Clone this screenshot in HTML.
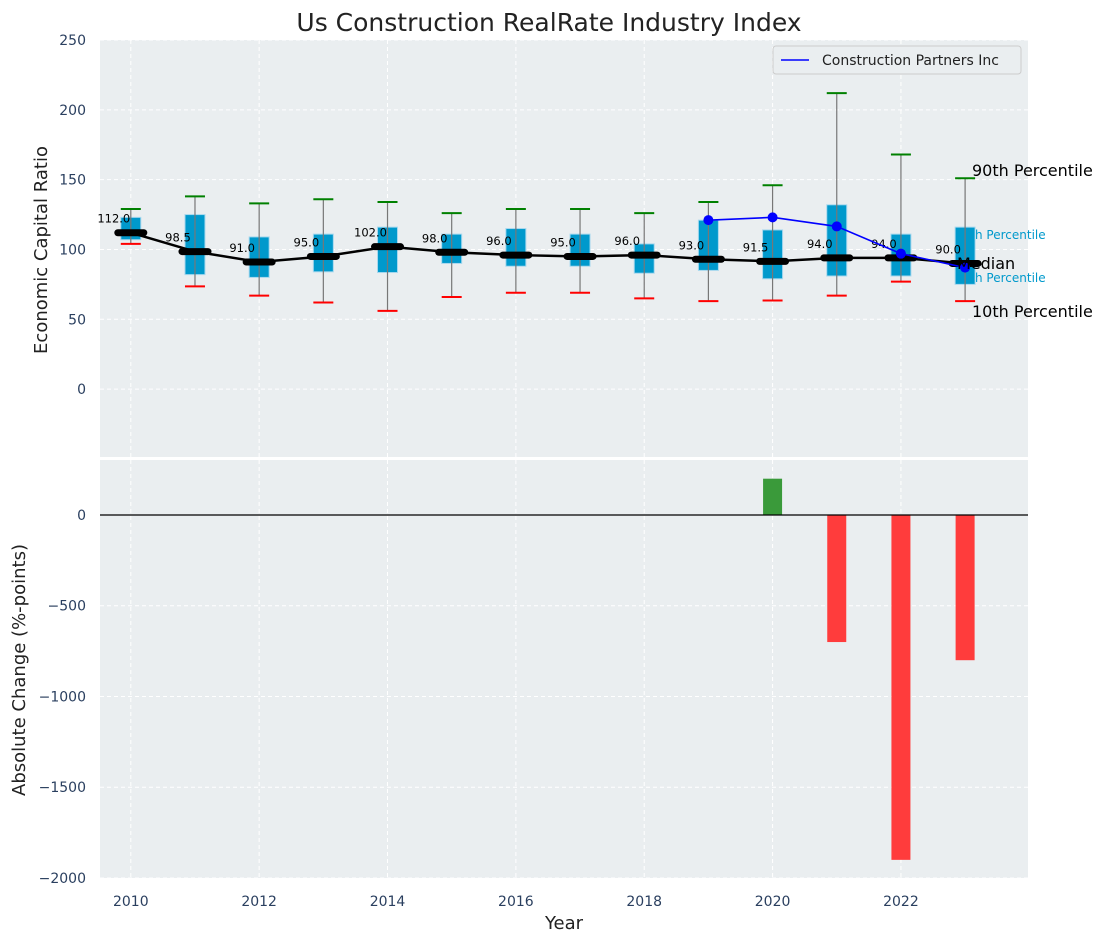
<!DOCTYPE html>
<html><head><meta charset="utf-8"><style>
body{margin:0;background:#fff;}
svg{display:block;font-family:"DejaVu Sans","Liberation Sans",sans-serif;}
</style></head><body>
<svg id="c" width="1107" height="942" viewBox="0 0 1107 942" xmlns="http://www.w3.org/2000/svg"></svg>
<script>
const years=[2010,2011,2012,2013,2014,2015,2016,2017,2018,2019,2020,2021,2022,2023];
const medians=[112,98.5,91,95,102,98,96,95,96,93,91.5,94,94,90];
const q75=[123,125,109,111,116,111,115,111,104,121,114,132,111,116];
const q25=[107,82,80,84,83.5,90,88,88,83,85,79,81,81,75];
const p90=[129,138,133,136,134,126,129,129,126,134,146,212,168,151];
const p10=[104,73.6,67,62,56,66,69,69,65,63,63.5,67,77,63];
const compYears=[2019,2020,2021,2022,2023];
const compVals=[121,123,116.5,97,87];
const chgYears=[2020,2021,2022,2023];
const chgVals=[200,-700,-1900,-800];
const topTicks=[0,50,100,150,200,250];
const botTicks=[0,-500,-1000,-1500,-2000];
const xTicks=[2010,2012,2014,2016,2018,2020,2022];

const svg=document.getElementById('c');
const NS='http://www.w3.org/2000/svg';
function el(t,a,p){const e=document.createElementNS(NS,t);for(const k in a)e.setAttribute(k,a[k]);(p||svg).appendChild(e);return e;}
const L=100,R=1028;
const X=v=>L+(v-2009.52)/(2023.98-2009.52)*(R-L);
const T0=40,T1=457; const YT=v=>T0+(250-v)/(250+48.6)*(T1-T0);
const B0=460,B1=878; const YB=v=>B0+(303-v)/(303+2000)*(B1-B0);
const tc='#2a3f5f';

let e=el('rect',{x:L,y:T0,width:R-L,height:T1-T0,fill:'#eaeef0'});

e=el('rect',{x:L,y:B0,width:R-L,height:B1-B0,fill:'#eaeef0'});


xTicks.forEach(t=>{
  el('line',{x1:X(t),x2:X(t),y1:T0,y2:T1,stroke:'#fff','stroke-dasharray':'4,3','stroke-width':1});
  el('line',{x1:X(t),x2:X(t),y1:B0,y2:B1,stroke:'#fff','stroke-dasharray':'4,3','stroke-width':1});
  e=el('text',{x:X(t),y:906,'text-anchor':'middle','font-size':14,fill:tc});e.textContent=t;
  
});
topTicks.forEach(t=>{
  el('line',{x1:L,x2:R,y1:YT(t),y2:YT(t),stroke:'#fff','stroke-dasharray':'4,3','stroke-width':1});
  e=el('text',{x:86,y:YT(t)+5,'text-anchor':'end','font-size':14,fill:tc});e.textContent=t;
  
});
botTicks.forEach(t=>{
  el('line',{x1:L,x2:R,y1:YB(t),y2:YB(t),stroke:'#fff','stroke-dasharray':'4,3','stroke-width':1});
  e=el('text',{x:86,y:YB(t)+5,'text-anchor':'end','font-size':14,fill:tc});e.textContent=(t<0?'\u2212'+(-t):t);
  
});

years.forEach((y,i)=>{
  const x=X(y);
  e=el('rect',{x:x-10,y:YT(q75[i]),width:20,height:YT(q25[i])-YT(q75[i]),fill:'#0099cc',stroke:'#a8d8ee','stroke-width':1});
  
  el('line',{x1:x,x2:x,y1:YT(p90[i]),y2:YT(p10[i]),stroke:'#777','stroke-width':1.2});
  e=el('line',{x1:x-10,x2:x+10,y1:YT(p90[i]),y2:YT(p90[i]),stroke:'green','stroke-width':2});
  
  e=el('line',{x1:x-10,x2:x+10,y1:YT(p10[i]),y2:YT(p10[i]),stroke:'red','stroke-width':2});
  
});
e=el('polyline',{points:years.map((y,i)=>X(y)+','+YT(medians[i])).join(' '),fill:'none',stroke:'#000','stroke-width':2.5});

years.forEach((y,i)=>{
  e=el('line',{x1:X(y)-13,x2:X(y)+13,y1:YT(medians[i]),y2:YT(medians[i]),stroke:'#000','stroke-width':7,'stroke-linecap':'round'});
  
  e=el('text',{x:X(y)-17,y:YT(medians[i])-10,'text-anchor':'middle','font-size':11.5,fill:'#000'});e.textContent=medians[i].toFixed(1);
  
});
e=el('polyline',{points:compYears.map((y,i)=>X(y)+','+YT(compVals[i])).join(' '),fill:'none',stroke:'#0000ff','stroke-width':1.6});

compYears.forEach((y,i)=>{
  e=el('circle',{cx:X(y),cy:YT(compVals[i]),r:5,fill:'#0000ff'});
  
});
const rl=[['90th Percentile',972,176,16,'#000'],['h Percentile',975,239,12,'#0099cc'],['Median',957,269,16,'#000'],['h Percentile',975,282,12,'#0099cc'],['10th Percentile',972,317,16,'#000']];
rl.forEach(r=>{e=el('text',{x:r[1],y:r[2],'font-size':r[3],fill:r[4]});e.textContent=r[0];
  });
const lg=el('g',{});
el('rect',{x:773,y:46,width:248,height:28,rx:3,fill:'#eaeef0',stroke:'#ccc'},lg);
el('line',{x1:781,x2:809,y1:60,y2:60,stroke:'#0000ff','stroke-width':1.6},lg);
e=el('text',{x:822,y:65,'font-size':14,fill:'#222'},lg);e.textContent='Construction Partners Inc';

chgYears.forEach((y,i)=>{
  const v=chgVals[i];const a=YB(Math.max(v,0)),b=YB(Math.min(v,0));
  e=el('rect',{x:X(y)-9.5,y:a,width:19,height:b-a,fill:v>=0?'#3a9a3a':'#ff3c3c'});
  
});
el('line',{x1:L,x2:R,y1:YB(0),y2:YB(0),stroke:'#000','stroke-width':1.2});

e=el('text',{x:549,y:31,'text-anchor':'middle','font-size':25,fill:'#222'});e.textContent='Us Construction RealRate Industry Index';

e=el('text',{x:564,y:929,'text-anchor':'middle','font-size':18,fill:'#222'});e.textContent='Year';

e=el('text',{x:0,y:0,'text-anchor':'middle','font-size':18,fill:'#222',transform:'translate(47,250) rotate(-90)'});e.textContent='Economic Capital Ratio';

e=el('text',{x:0,y:0,'text-anchor':'middle','font-size':18,fill:'#222',transform:'translate(25,670) rotate(-90)'});e.textContent='Absolute Change (%-points)';

</script>
</body></html>
